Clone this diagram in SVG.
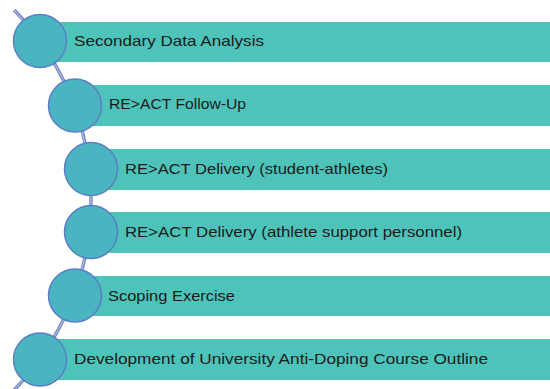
<svg xmlns="http://www.w3.org/2000/svg" width="550" height="389" viewBox="0 0 550 389">
<style>
.bar{fill:#4EC3B9}
.dot{fill:#4AB4C1;stroke:#5A7FC6;stroke-width:1.5}
.lbl{font-family:"Liberation Sans",Arial,sans-serif;font-size:15px;fill:#1B1B1B}
.arc{fill:none}
</style>
<rect width="550" height="389" fill="#ffffff"/>
<g id="connectors">
<path class="arc" d="M 14.2 10 A 273.4 273.4 0 0 1 14.2 390" stroke="#7A8BC2" stroke-width="3.5"/>
<path class="arc" d="M 14.2 10 A 273.4 273.4 0 0 1 14.2 390" stroke="#B9C3E2" stroke-width="1"/>
</g>
<g id="node1"><rect class="bar" x="40" y="22" width="510" height="40"/><circle class="dot" cx="40" cy="41" r="26.5"/><text class="lbl" x="74" y="46" textLength="190" lengthAdjust="spacingAndGlyphs">Secondary Data Analysis</text></g>
<g id="node2"><rect class="bar" x="75" y="85" width="475" height="41"/><circle class="dot" cx="75" cy="105.5" r="26.5"/><text class="lbl" x="109" y="109" textLength="137" lengthAdjust="spacingAndGlyphs">RE&gt;ACT Follow-Up</text></g>
<g id="node3"><rect class="bar" x="91" y="149" width="459" height="41"/><circle class="dot" cx="91" cy="169" r="26.5"/><text class="lbl" x="125" y="174" textLength="263" lengthAdjust="spacingAndGlyphs">RE&gt;ACT Delivery (student-athletes)</text></g>
<g id="node4"><rect class="bar" x="91" y="212" width="459" height="41"/><circle class="dot" cx="91" cy="232" r="26.5"/><text class="lbl" x="125" y="237" textLength="337" lengthAdjust="spacingAndGlyphs">RE&gt;ACT Delivery (athlete support personnel)</text></g>
<g id="node5"><rect class="bar" x="75" y="276" width="475" height="40"/><circle class="dot" cx="75" cy="295.5" r="26.5"/><text class="lbl" x="108" y="301" textLength="127" lengthAdjust="spacingAndGlyphs">Scoping Exercise</text></g>
<g id="node6"><rect class="bar" x="40" y="339" width="510" height="41"/><circle class="dot" cx="40" cy="359.5" r="26.5"/><text class="lbl" x="74" y="364" textLength="414" lengthAdjust="spacingAndGlyphs">Development of University Anti-Doping Course Outline</text></g>
</svg>
